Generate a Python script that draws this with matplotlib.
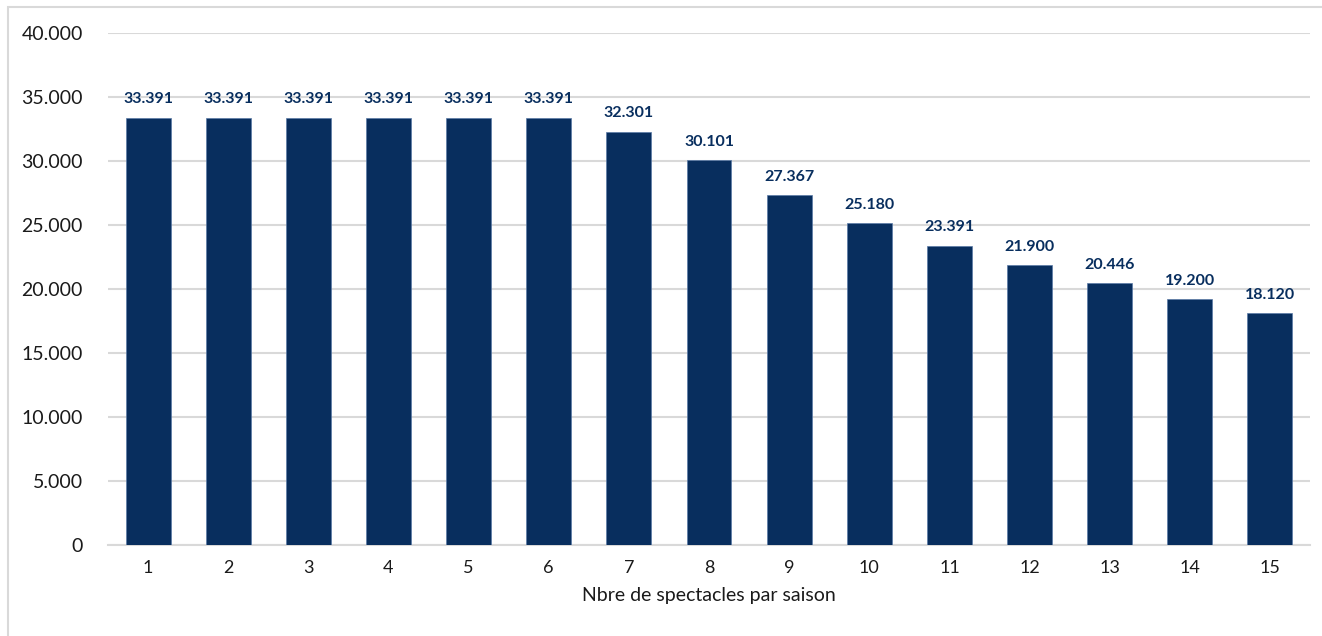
import matplotlib.pyplot as plt
from matplotlib.patches import Rectangle

# data
categories = [str(i) for i in range(1, 16)]
values = [33391, 33391, 33391, 33391, 33391, 33391, 32301, 30101,
          27367, 25180, 23391, 21900, 20446, 19200, 18120]
y_ticks = [0, 5000, 10000, 15000, 20000, 25000, 30000, 35000, 40000]
x_label = "Nbre de spectacles par saison"

bar_color = "#082E5E"
grid_color = "#D9D9D9"
text_color = "#1A1A1A"

plt.rcParams['font.family'] = ['Lato', 'DejaVu Sans']


def fmt_fr(v):
    # thousands separator as a dot
    return f"{v:,}".replace(",", ".")


fig = plt.figure(figsize=(13.22, 6.36), dpi=100)
ax = fig.add_axes([108 / 1322, 1 - 545 / 636, (1310 - 108) / 1322, (545 - 33) / 636])

# light frame around the chart area
fig.patches.append(Rectangle((8 / 1322, -0.1), 1.2, 1 - 7 / 636 + 0.1,
                             transform=fig.transFigure, fill=False,
                             edgecolor=grid_color, linewidth=1.5))

x = range(len(categories))
bars = ax.bar(x, values, width=0.56, color=bar_color, edgecolor="#5A7AA6",
              linewidth=0.5, zorder=3)

for xi, v in zip(x, values):
    ax.annotate(fmt_fr(v), xy=(xi, v), xytext=(0, 8), textcoords='offset points',
                ha='center', va='bottom', fontsize=11.5, fontweight='bold',
                color=bar_color)

ax.set_xlim(-0.5, len(categories) - 0.5)
ax.set_ylim(0, 40000)
ax.set_yticks(y_ticks)
ax.set_yticklabels([fmt_fr(t) for t in y_ticks], fontsize=14, color=text_color)
ax.set_xticks(list(x))
ax.set_xticklabels(categories, fontsize=13, color=text_color)
ax.set_xlabel(x_label, fontsize=14, color=text_color, labelpad=8)

ax.yaxis.grid(True, color=grid_color, linewidth=1.5, zorder=0)
ax.set_axisbelow(True)
for side in ['top', 'right', 'left']:
    ax.spines[side].set_visible(False)
ax.spines['bottom'].set_color(grid_color)
ax.spines['bottom'].set_linewidth(1.5)
ax.tick_params(axis='both', length=0)
ax.tick_params(axis='y', pad=18)
ax.tick_params(axis='x', pad=11)

fig.savefig("out.png", dpi=100)
